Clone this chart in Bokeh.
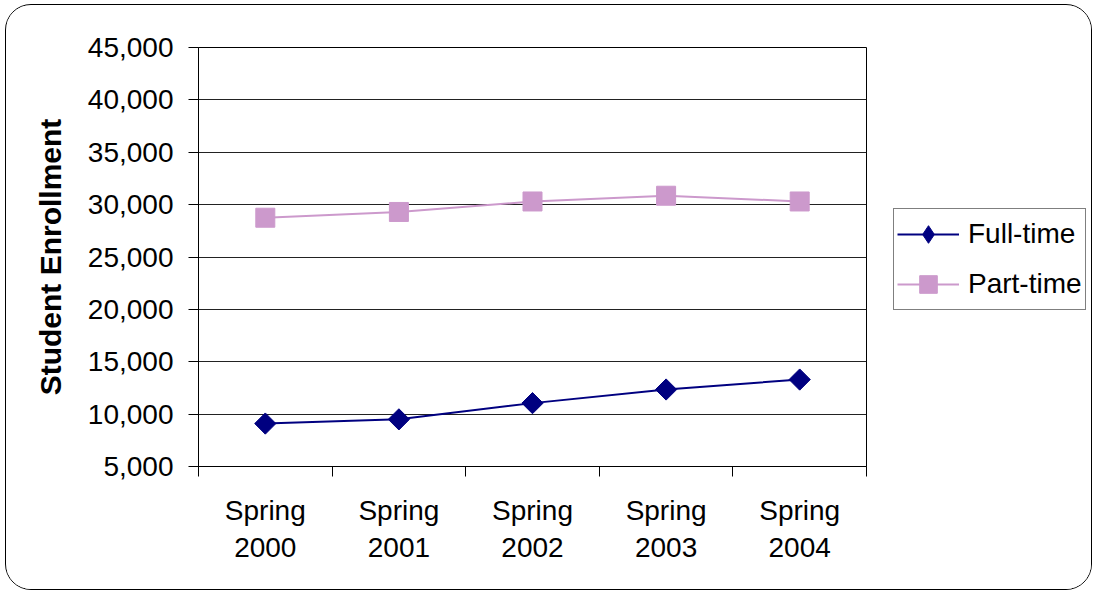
import math
from bokeh.plotting import figure
from bokeh.layouts import row
from bokeh.models import FixedTicker, NumeralTickFormatter, Legend, LegendItem, Range1d
from bokeh.embed import file_html
from bokeh.resources import INLINE

# ---- data ----
categories = ["Spring 2000", "Spring 2001", "Spring 2002", "Spring 2003", "Spring 2004"]
tick_labels = ["Spring\n2000", "Spring\n2001", "Spring\n2002", "Spring\n2003", "Spring\n2004"]
full_time = [9100, 9500, 11050, 12350, 13300]
part_time = [28750, 29300, 30300, 30850, 30300]
y_ticks = [5000, 10000, 15000, 20000, 25000, 30000, 35000, 40000, 45000]
series_names = ["Full-time", "Part-time"]

n = len(categories)
xc = [i + 0.5 for i in range(n)]
bounds = [float(i) for i in range(n + 1)]

FONT = "Liberation Sans"
FT_COLOR = "#000080"
PT_COLOR = "#CC99CC"

p = figure(width=862, height=584, x_range=Range1d(0, n), y_range=Range1d(y_ticks[0], y_ticks[-1]),
           output_backend="svg", toolbar_location=None,
           min_border_left=192, min_border_right=2, min_border_top=42, min_border_bottom=123)
p.background_fill_color = "white"
p.border_fill_color = "white"
p.outline_line_color = "black"
p.outline_line_width = 1

# x axis
p.xaxis.ticker = FixedTicker(ticks=xc, minor_ticks=bounds)
p.xaxis.major_label_overrides = {xc[i]: tick_labels[i] for i in range(n)}
p.xaxis.major_tick_out = 0
p.xaxis.major_tick_in = 0
p.xaxis.minor_tick_out = 10
p.xaxis.minor_tick_in = 0
p.xaxis.minor_tick_line_color = "black"
p.xaxis.axis_line_color = "black"
p.xaxis.major_label_text_font = FONT
p.xaxis.major_label_text_font_size = "28px"
p.xaxis.major_label_text_color = "black"
p.xaxis.major_label_standoff = 18
p.xgrid.grid_line_color = None

# y axis
p.yaxis.ticker = FixedTicker(ticks=y_ticks, minor_ticks=[])
p.yaxis.formatter = NumeralTickFormatter(format="0,0")
p.yaxis.major_tick_out = 10
p.yaxis.major_tick_in = 0
p.yaxis.major_tick_line_color = "black"
p.yaxis.axis_line_color = "black"
p.yaxis.major_label_text_font = FONT
p.yaxis.major_label_text_font_size = "28px"
p.yaxis.major_label_text_color = "black"
p.yaxis.major_label_standoff = 15
p.yaxis.axis_label = "Student Enrollment"
p.yaxis.axis_label_text_font = FONT
p.yaxis.axis_label_text_font_size = "30px"
p.yaxis.axis_label_text_font_style = "bold"
p.yaxis.axis_label_text_color = "black"
p.yaxis.axis_label_standoff = 18
p.ygrid.grid_line_color = "#222222"
p.ygrid.grid_line_width = 1

# series
p.line(xc, full_time, line_color=FT_COLOR, line_width=2)
p.scatter(xc, full_time, marker="square", angle=math.pi / 4, size=15,
          fill_color=FT_COLOR, line_color=FT_COLOR)
p.line(xc, part_time, line_color=PT_COLOR, line_width=2)
p.scatter(xc, part_time, marker="square", size=19, fill_color=PT_COLOR, line_color=PT_COLOR)

# legend panel (separate figure holding only the key)
lg = figure(width=223, height=584, x_range=Range1d(0, 1), y_range=Range1d(0, 1),
            x_axis_type=None, y_axis_type=None, output_backend="svg", toolbar_location=None,
            min_border=0)
lg.grid.grid_line_color = None
lg.outline_line_color = None
lg.background_fill_color = "white"
lg.border_fill_color = "white"
nan = [float("nan")]
k1l = lg.line(nan, nan, line_color=FT_COLOR, line_width=2)
k1m = lg.scatter(nan, nan, marker="diamond", size=23, fill_color=FT_COLOR, line_color=FT_COLOR)
k2l = lg.line(nan, nan, line_color=PT_COLOR, line_width=2)
k2m = lg.scatter(nan, nan, marker="square", size=19, fill_color=PT_COLOR, line_color=PT_COLOR)

legend = Legend(items=[LegendItem(label=series_names[0], renderers=[k1l, k1m]),
                       LegendItem(label=series_names[1], renderers=[k2l, k2m])],
                location=(25, 156))
legend.border_line_color = "black"
legend.border_line_width = 1
legend.background_fill_color = "white"
legend.label_text_font = FONT
legend.label_text_font_size = "28px"
legend.label_text_color = "black"
legend.glyph_width = 62
legend.glyph_height = 44
legend.label_standoff = 9
legend.padding = 3
legend.spacing = 6
legend.margin = 0
lg.add_layout(legend, "center")

layout = row(p, lg, styles={"border": "1px solid black", "border-radius": "26px",
                            "overflow": "hidden", "background": "white",
                            "margin": "4px 0 0 5px"})

open("out.html", "w").write(file_html(layout, INLINE))
